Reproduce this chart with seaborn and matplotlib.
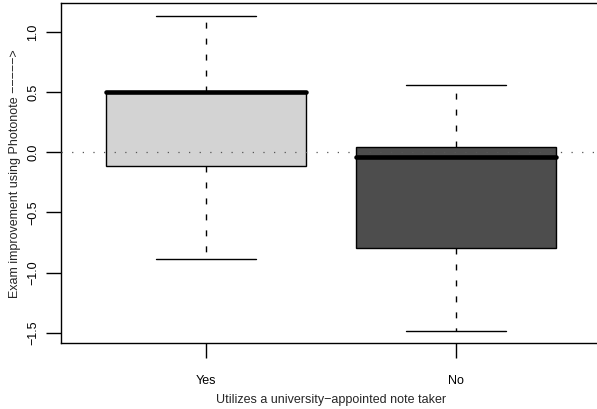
import numpy as np
import pandas as pd
import matplotlib
matplotlib.use("Agg")
import matplotlib.pyplot as plt
import seaborn as sns

# Five-number summaries of exam improvement per group
groups = ["Yes", "No"]
whisker_low = [-0.888, -1.484]
q1 = [-0.111, -0.794]
median = [0.500, -0.037]
q3 = [0.500, 0.047]
whisker_high = [1.136, 0.562]
box_colors = ["#D3D3D3", "#4D4D4D"]

# One row per summary value, so the quartiles reproduce the summary exactly
rows = []
for g, lo, a, m, b, hi in zip(groups, whisker_low, q1, median, q3, whisker_high):
    for v in (lo, a, m, b, hi):
        rows.append({"group": g, "improvement": v})
df = pd.DataFrame(rows)

sns.set_style("white")
plt.rcParams["font.family"] = ["Liberation Sans", "DejaVu Sans"]
plt.rcParams["axes.unicode_minus"] = True

fig = plt.figure(figsize=(5.97, 4.09), dpi=100)
ax = fig.add_axes([0.1017, 0.1606, 0.9045, 0.8318])

sns.boxplot(
    data=df, x="group", y="improvement", hue="group",
    order=groups, hue_order=groups, palette=box_colors,
    saturation=1, width=0.8, whis=np.inf, linecolor="black",
    linewidth=1.0, legend=False, ax=ax,
    capwidths=0.4,
    boxprops={"linewidth": 1.0, "edgecolor": "black"},
    whiskerprops={"linestyle": (0, (4.3, 7.2)), "linewidth": 1.0, "color": "black"},
    capprops={"linewidth": 1.0, "color": "black"},
    medianprops={"linewidth": 3.3, "color": "black", "solid_capstyle": "round"},
)

ax.axhline(0, color="#555555", linewidth=0.9, linestyle=(0, (1, 7.5)), zorder=5)

ax.set_xlim(-0.58, 1.58)
ax.set_ylim(-1.589, 1.241)
ax.set_yticks([-1.5, -1.0, -0.5, 0.0, 0.5, 1.0])
ax.set_yticklabels(["\u22121.5", "\u22121.0", "\u22120.5", "0.0", "0.5", "1.0"])

for s in ax.spines.values():
    s.set_color("black")
    s.set_linewidth(1.0)

ax.tick_params(axis="both", which="major", direction="out", length=11,
               width=1.0, color="black", labelsize=9, labelcolor="black",
               bottom=True, left=True)
ax.tick_params(axis="x", pad=12)
ax.tick_params(axis="y", pad=4.5, labelrotation=90)
for lab in ax.get_yticklabels():
    lab.set_va("center")

ax.set_xlabel("Utilizes a university\u2212appointed note taker", fontsize=9, labelpad=5)
ax.set_ylabel("Exam improvement using Photonote \u2212\u2212\u2212\u2212\u2212>", fontsize=9, labelpad=4.5)

fig.savefig("out.png", dpi=100)
